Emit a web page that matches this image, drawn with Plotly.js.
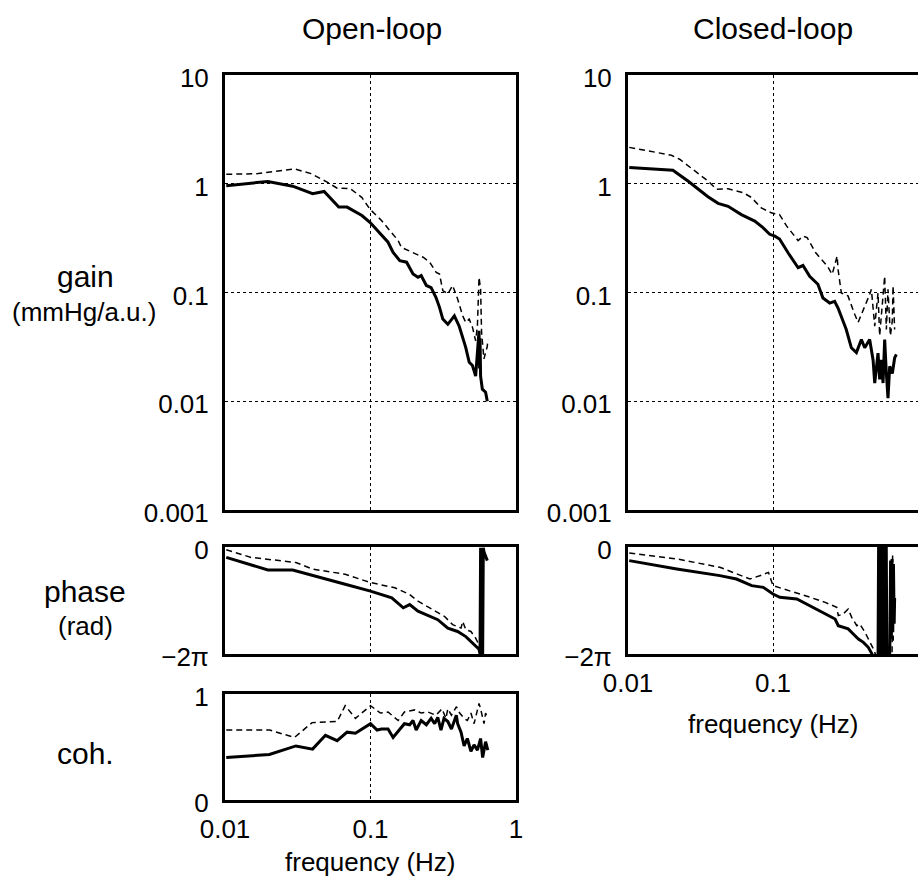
<!DOCTYPE html>
<html>
<head>
<meta charset="utf-8">
<script src="https://cdn.plot.ly/plotly-3.0.1.min.js"></script>
<style>html,body{margin:0;padding:0;background:#fff;}#chart{width:918px;height:885px;}</style>
</head>
<body>
<div id="chart"></div>
<script>
// ---------- data ----------
const freqTicks = [0.01, 0.1, 1];
const freqTickText = ['0.01', '0.1', '1'];
const gainTicks = [0.001, 0.01, 0.1, 1, 10];
const gainTickText = ['0.001', '0.01', '0.1', '1', '10'];
const phaseTicks = [-2 * Math.PI, 0];
const phaseTickText = ['\u22122\u03c0', '0'];
const cohTicks = [0, 1];
const cohTickText = ['0', '1'];

// Open-loop gain
const olGainSolidF = [0.0102, 0.0197, 0.0292, 0.040, 0.048, 0.0605, 0.069, 0.0873, 0.0995, 0.119, 0.132, 0.143, 0.159, 0.177, 0.196, 0.212, 0.223, 0.242, 0.261, 0.282, 0.298, 0.314, 0.34, 0.377, 0.407, 0.44, 0.452, 0.477, 0.502, 0.515, 0.528, 0.543, 0.557, 0.562, 0.566, 0.571, 0.587, 0.618, 0.635];
const olGainSolid  = [0.96, 1.05, 0.95, 0.81, 0.85, 0.61, 0.61, 0.51, 0.44, 0.334, 0.29, 0.234, 0.196, 0.19, 0.148, 0.138, 0.143, 0.116, 0.111, 0.090, 0.073, 0.057, 0.051, 0.061, 0.049, 0.035, 0.031, 0.0228, 0.0213, 0.019, 0.017, 0.028, 0.0445, 0.020, 0.038, 0.017, 0.0129, 0.0121, 0.0100];
const olGainDashF  = [0.0102, 0.0169, 0.030, 0.039, 0.050, 0.059, 0.0727, 0.087, 0.0995, 0.119, 0.136, 0.155, 0.163, 0.191, 0.23, 0.255, 0.283, 0.298, 0.314, 0.34, 0.367, 0.397, 0.43, 0.452, 0.477, 0.502, 0.528, 0.543, 0.557, 0.571, 0.58, 0.602, 0.635, 0.64];
const olGainDash   = [1.22, 1.24, 1.37, 1.24, 1.04, 0.91, 0.90, 0.75, 0.58, 0.46, 0.37, 0.30, 0.26, 0.235, 0.211, 0.19, 0.153, 0.148, 0.104, 0.097, 0.116, 0.087, 0.061, 0.053, 0.057, 0.048, 0.036, 0.049, 0.138, 0.108, 0.043, 0.0245, 0.032, 0.037];

// Open-loop phase (rad)
const olPhaseSolidF = [0.0102, 0.0197, 0.0292, 0.049, 0.067, 0.1, 0.140, 0.168, 0.186, 0.212, 0.242, 0.29, 0.34, 0.397, 0.452, 0.49, 0.528, 0.557, 0.566, 0.571, 0.578, 0.584, 0.590, 0.596, 0.603, 0.62, 0.635];
const olPhaseSolid  = [-0.61, -1.35, -1.35, -1.90, -2.19, -2.59, -2.98, -3.57, -3.38, -3.77, -3.97, -4.27, -4.76, -4.96, -5.26, -5.55, -5.85, -6.0, -6.28, -0.05, -6.2, -0.1, -6.28, -0.05, -0.3, -0.6, -0.8];
const olPhaseDashF  = [0.0102, 0.0151, 0.0307, 0.040, 0.067, 0.1, 0.147, 0.186, 0.212, 0.268, 0.322, 0.367, 0.419, 0.43, 0.452, 0.49, 0.528, 0.557, 0.571];
const olPhaseDash   = [-0.16, -0.61, -0.91, -1.30, -1.60, -2.09, -2.39, -2.79, -3.18, -3.67, -4.07, -4.56, -4.76, -4.37, -4.86, -4.96, -5.35, -5.75, -6.2];

// Open-loop coherence
const olCohSolidF = [0.0102, 0.0202, 0.0307, 0.040, 0.049, 0.059, 0.069, 0.0788, 0.1, 0.111, 0.119, 0.132, 0.143, 0.159, 0.171, 0.186, 0.196, 0.206, 0.223, 0.242, 0.261, 0.276, 0.29, 0.305, 0.32, 0.34, 0.36, 0.389, 0.397, 0.419, 0.44, 0.463, 0.49, 0.515, 0.543, 0.571, 0.59, 0.618, 0.64];
const olCohSolid  = [0.40, 0.43, 0.51, 0.48, 0.61, 0.56, 0.64, 0.63, 0.72, 0.66, 0.67, 0.67, 0.59, 0.67, 0.72, 0.71, 0.75, 0.66, 0.75, 0.71, 0.77, 0.72, 0.78, 0.66, 0.77, 0.74, 0.67, 0.80, 0.72, 0.64, 0.51, 0.58, 0.46, 0.52, 0.47, 0.58, 0.40, 0.55, 0.47];
const olCohDashF  = [0.0102, 0.0202, 0.03, 0.0397, 0.059, 0.067, 0.0788, 0.1, 0.117, 0.132, 0.155, 0.171, 0.202, 0.223, 0.248, 0.282, 0.31, 0.33, 0.34, 0.36, 0.39, 0.41, 0.44, 0.463, 0.49, 0.515, 0.557, 0.571, 0.603, 0.618, 0.635];
const olCohDash   = [0.66, 0.66, 0.59, 0.73, 0.74, 0.89, 0.77, 0.89, 0.82, 0.83, 0.75, 0.83, 0.85, 0.82, 0.83, 0.80, 0.86, 0.77, 0.86, 0.80, 0.88, 0.82, 0.77, 0.75, 0.82, 0.72, 0.91, 0.86, 0.72, 0.82, 0.78];

// Closed-loop gain
const clGainSolidF = [0.0102, 0.0204, 0.0259, 0.0304, 0.0356, 0.0418, 0.049, 0.0605, 0.0748, 0.0853, 0.0949, 0.103, 0.111, 0.127, 0.149, 0.161, 0.179, 0.204, 0.221, 0.246, 0.266, 0.281, 0.296, 0.32, 0.347, 0.376, 0.407, 0.429, 0.464, 0.49, 0.503, 0.53, 0.544, 0.558, 0.574, 0.589, 0.605, 0.621, 0.638, 0.665, 0.69, 0.709];
const clGainSolid  = [1.41, 1.33, 1.06, 0.89, 0.76, 0.66, 0.62, 0.52, 0.454, 0.395, 0.343, 0.33, 0.31, 0.232, 0.169, 0.177, 0.141, 0.119, 0.089, 0.080, 0.083, 0.072, 0.0605, 0.0456, 0.031, 0.028, 0.037, 0.031, 0.037, 0.024, 0.0147, 0.0277, 0.0159, 0.024, 0.0147, 0.037, 0.0181, 0.0107, 0.021, 0.018, 0.025, 0.027];
const clGainDashF  = [0.0102, 0.0199, 0.0227, 0.0288, 0.0356, 0.0407, 0.049, 0.062, 0.0708, 0.083, 0.0973, 0.103, 0.111, 0.124, 0.149, 0.161, 0.172, 0.197, 0.237, 0.256, 0.277, 0.281, 0.296, 0.329, 0.347, 0.366, 0.386, 0.407, 0.429, 0.464, 0.477, 0.503, 0.53, 0.544, 0.566, 0.589, 0.605, 0.621, 0.645, 0.665, 0.673, 0.69];
const clGainDash   = [2.16, 1.83, 1.68, 1.31, 1.06, 0.89, 0.90, 0.83, 0.75, 0.60, 0.54, 0.53, 0.52, 0.41, 0.30, 0.33, 0.32, 0.232, 0.175, 0.147, 0.216, 0.163, 0.099, 0.093, 0.075, 0.063, 0.053, 0.063, 0.072, 0.096, 0.107, 0.049, 0.099, 0.040, 0.075, 0.141, 0.0456, 0.107, 0.040, 0.055, 0.115, 0.0456];

// Closed-loop phase (rad)
const clPhaseSolidF = [0.0102, 0.0217, 0.043, 0.056, 0.0713, 0.0857, 0.1, 0.1116, 0.146, 0.18, 0.222, 0.268, 0.282, 0.305, 0.33, 0.358, 0.388, 0.42, 0.454, 0.478, 0.50, 0.530, 0.535, 0.540, 0.546, 0.552, 0.558, 0.565, 0.572, 0.580, 0.588, 0.596, 0.604, 0.610, 0.635, 0.640, 0.647, 0.655, 0.662, 0.670, 0.677, 0.685, 0.690];
const clPhaseSolid  = [-0.80, -1.29, -1.68, -1.88, -2.27, -2.37, -2.76, -2.95, -3.05, -3.45, -3.83, -4.23, -4.62, -4.71, -4.81, -5.11, -5.40, -5.60, -5.89, -6.23, -6.6, -6.5, 0.1, -6.5, 0.1, -6.5, 0.1, -6.5, 0.1, -6.5, 0.1, -6.5, 0.1, -6.5, -7.0, -5.6, -0.8, -5.4, -0.7, -5.0, -1.0, -4.5, -3.0];
const clPhaseDashF  = [0.0102, 0.0217, 0.043, 0.0693, 0.081, 0.093, 0.1, 0.131, 0.18, 0.229, 0.275, 0.282, 0.305, 0.33, 0.349, 0.378, 0.397, 0.431, 0.454, 0.478, 0.50, 0.52, 0.662, 0.668, 0.675];
const clPhaseDash   = [-0.35, -0.70, -1.19, -1.88, -1.69, -1.49, -2.27, -2.57, -2.95, -3.25, -3.54, -4.03, -3.93, -3.64, -4.13, -4.62, -4.52, -5.01, -5.40, -5.70, -6.1, -6.6, -6.6, -0.4, -5.5];

// ---------- layout geometry (pixels) ----------
const W = 918, H = 885;
const px = v => v / W;
const py = v => 1 - v / H;
const FONT = 'Liberation Sans, Arial, Helvetica, sans-serif';
const TICKSIZE = 26;

const solid = {color: '#000', width: 3};
const dashed = {color: '#000', width: 1.5, dash: '6px,4px'};

function tr(x, y, xa, ya, line) {
  return {x: x, y: y, xaxis: xa, yaxis: ya, type: 'scatter', mode: 'lines', line: line, hoverinfo: 'skip', showlegend: false};
}

const data = [
  tr(olGainDashF, olGainDash, 'x', 'y', dashed),
  tr(olGainSolidF, olGainSolid, 'x', 'y', solid),
  tr(olPhaseDashF, olPhaseDash, 'x2', 'y2', dashed),
  tr(olPhaseSolidF, olPhaseSolid, 'x2', 'y2', solid),
  tr(olCohDashF, olCohDash, 'x3', 'y3', dashed),
  tr(olCohSolidF, olCohSolid, 'x3', 'y3', solid),
  tr(clGainDashF, clGainDash, 'x4', 'y4', dashed),
  tr(clGainSolidF, clGainSolid, 'x4', 'y4', solid),
  tr(clPhaseDashF, clPhaseDash, 'x5', 'y5', dashed),
  tr(clPhaseSolidF, clPhaseSolid, 'x5', 'y5', solid)
];

function xax(domain, anchor, labels, mirror) {
  return {
    type: 'log', range: [-2, 0], domain: domain, anchor: anchor,
    tickvals: freqTicks, ticktext: freqTickText, showticklabels: labels,
    tickfont: {family: FONT, size: TICKSIZE, color: '#000'},
    ticks: '', ticklabelstandoff: 4,
    showgrid: true, gridcolor: '#000', griddash: 'dot', gridwidth: 1,
    showline: true, linecolor: '#000', linewidth: 3, mirror: mirror,
    zeroline: false, automargin: false, fixedrange: true
  };
}
function yax(domain, anchor, extra, mirror) {
  return Object.assign({
    domain: domain, anchor: anchor,
    tickfont: {family: FONT, size: TICKSIZE, color: '#000'},
    ticks: '', ticklabelstandoff: 8, ticklabelshift: 3,
    showline: true, linecolor: '#000', linewidth: 3, mirror: mirror,
    zeroline: false, automargin: false, fixedrange: true
  }, extra);
}

const gainY = {type: 'log', range: [-3, 1], tickvals: gainTicks, ticktext: gainTickText, showgrid: true, gridcolor: '#000', griddash: 'dot', gridwidth: 1};
const phaseY = {range: [-2 * Math.PI, 0], tickvals: phaseTicks, ticktext: phaseTickText, showgrid: false};
const cohY = {range: [0, 1], tickvals: cohTicks, ticktext: cohTickText, showgrid: false};

const OLX = [px(225), px(516)];
const CLX = [px(628), 1];
const GAINY = [py(510), py(75)];
const PHY = [py(654), py(547)];
const COHY = [py(800), py(694)];

function ann(text, x, y, size) {
  return {text: text, x: px(x), y: py(y), xref: 'paper', yref: 'paper', xanchor: 'center', yanchor: 'middle', showarrow: false, font: {family: FONT, size: size, color: '#000'}};
}

const layout = {
  width: W, height: H,
  margin: {l: 0, r: 0, t: 0, b: 0, pad: 0},
  paper_bgcolor: '#fff', plot_bgcolor: '#fff',
  showlegend: false,
  xaxis: xax(OLX, 'y', false, true),
  yaxis: yax(GAINY, 'x', gainY, true),
  xaxis2: xax(OLX, 'y2', false, true),
  yaxis2: yax(PHY, 'x2', phaseY, true),
  xaxis3: xax(OLX, 'y3', true, true),
  yaxis3: yax(COHY, 'x3', cohY, true),
  xaxis4: xax(CLX, 'y4', false, true),
  yaxis4: yax(GAINY, 'x4', gainY, false),
  xaxis5: xax(CLX, 'y5', true, true),
  yaxis5: yax(PHY, 'x5', phaseY, false),
  annotations: [
    ann('Open-loop', 372, 28, 30),
    ann('Closed-loop', 773, 28, 30),
    ann('gain', 85, 276, 30),
    ann('(mmHg/a.u.)', 84, 312, 26),
    ann('phase', 85, 591, 30),
    ann('(rad)', 85, 626, 26),
    ann('coh.', 85, 753, 30),
    ann('frequency (Hz)', 370, 862, 26),
    ann('frequency (Hz)', 773, 724, 26)
  ]
};

Plotly.newPlot('chart', data, layout, {staticPlot: true, displayModeBar: false});
</script>
</body>
</html>
